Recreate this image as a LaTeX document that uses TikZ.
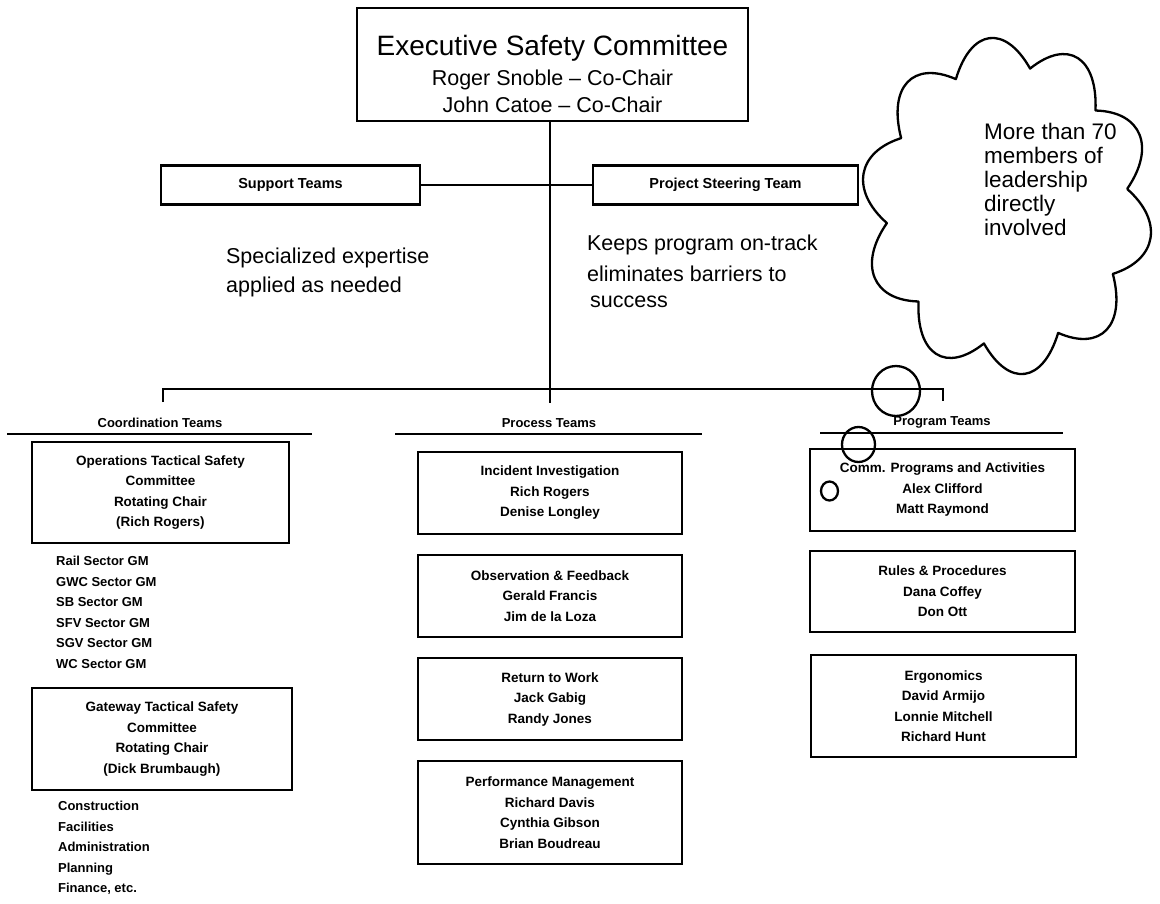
\documentclass[tikz,border=0pt]{standalone}
\usepackage{fontspec}
\setmainfont{Liberation Sans}
\usetikzlibrary{shapes.geometric,calc}
\begin{document}
\begin{tikzpicture}[x=1pt,y=-1pt,line width=2.3pt,
  frame/.style={draw,line width=2.4pt,inner sep=0pt,align=center},
  small/.style={font=\bfseries\fontsize{13.5}{20.5}\selectfont},
  head/.style={font=\bfseries\fontsize{13}{15}\selectfont,inner sep=0pt},
  big/.style={font=\fontsize{21.5}{28}\selectfont,align=left,inner sep=0pt},
  listtxt/.style={font=\bfseries\fontsize{13}{20.5}\selectfont,align=left,inner sep=0pt,anchor=west},
  bubble/.style={draw,line width=2.3pt,ellipse,inner sep=0pt}]
\useasboundingbox (0,0) rectangle (1160,903);

% top box
\node[frame,minimum width=391pt,minimum height=113pt] (esc) at (552.5,64.5) {};
\node[inner sep=0pt,font=\fontsize{28}{30}\selectfont] (esct) at (552.5,48) {Executive Safety Committee};
\node[inner sep=0pt,font=\fontsize{21.5}{24}\selectfont] (escr) at (552.5,80) {Roger Snoble -- Co-Chair};
\node[inner sep=0pt,font=\fontsize{21.5}{24}\selectfont] (escj) at (552.5,105) {John Catoe -- Co-Chair};

% support and steering
\node[frame,minimum width=259pt,minimum height=39pt,font=\bfseries\fontsize{14.5}{16}\selectfont] (sup) at (290.5,185) {Support Teams};
\node[frame,minimum width=265pt,minimum height=39pt,font=\bfseries\fontsize{14.5}{16}\selectfont] (pst) at (725.5,185) {Project Steering Team};
\draw (sup.east) -- (pst.west);

\node[big,anchor=west] (spec) at (225,258) {Specialized expertise};
\node[big,anchor=west] (spec2) at (225,287) {applied as needed};
\node[big,anchor=west] (keep) at (586,245) {Keeps program on-track};
\node[big,anchor=west] (keep2) at (586,274) {eliminates barriers to};
\node[big,anchor=west] (keep3) at (589,302) {success};

% trunk and bar
\coordinate (bj) at (550,389);
\coordinate (bjd) at (550,403);
\coordinate (bl) at (163,389);
\coordinate (bld) at (163,402);
\coordinate (br) at (943,389);
\coordinate (brd) at (943,401);
\draw (esc.south -| bj) -- (bjd);
\draw (bld) -- (bl) -- (br) -- (brd);

% cloud
\coordinate (cc) at (1007,206);
\foreach \i/\a in {0/-7,1/29,2/65,3/101,4/137,5/173,6/209,7/245,8/281,9/317}
  \coordinate (v\i) at ($(cc)+(\a:121 and 140)$);
\foreach \i/\j in {0/1,1/2,2/3,3/4,4/5,5/6,6/7,7/8,8/9,9/0} {
  \coordinate (m\i) at ($(v\i)!0.3333!(v\j)$);
  \coordinate (n\i) at ($(v\i)!0.6667!(v\j)$);
  \coordinate (p\i) at ($(cc)!1.36!(m\i)$);
  \coordinate (q\i) at ($(cc)!1.36!(n\i)$);
}
\draw[line width=2.3pt,line join=round] (v0)
  \foreach \i/\j in {0/1,1/2,2/3,3/4,4/5,5/6,6/7,7/8,8/9,9/0} { .. controls (p\i) and (q\i) .. (v\j) };
\node[inner sep=0pt,anchor=north west,align=left,font=\fontsize{22.5}{24}\selectfont] (ctext) at (983,122)
  {More than 70\\members of\\leadership\\directly\\involved};
\node[bubble,minimum width=48pt,minimum height=50pt] (b1) at (896,391) {};
\node[bubble,minimum width=33pt,minimum height=35pt] (b2) at (858.5,444.5) {};
\node[bubble,minimum width=17pt,minimum height=19pt] (b3) at (829.5,491) {};

% headers
\node[head] (hc) at (160,423) {Coordination Teams};
\node[head] (hp) at (549,423) {Process Teams};
\node[head] (hg) at (942,422) {Program Teams};
\coordinate (ucl) at (7,434); \coordinate (ucr) at (312,434);
\coordinate (upl) at (395,434); \coordinate (upr) at (702,434);
\coordinate (ugl) at (820,433); \coordinate (ugr) at (1063,433);
\draw (ucl) -- (ucr);
\draw (upl) -- (upr);
\draw (ugl) -- (ugr);

% coordination column
\node[frame,small,minimum width=257pt,minimum height=101pt] (ops) at (160.5,492.5)
  {Operations Tactical Safety\\Committee\\Rotating Chair\\(Rich Rogers)};
\node[listtxt,anchor=north west] (sect) at (55,555)
  {Rail Sector GM\\GWC Sector GM\\SB Sector GM\\SFV Sector GM\\SGV Sector GM\\WC Sector GM};
\node[frame,small,minimum width=260pt,minimum height=102pt] (gate) at (162,739)
  {Gateway Tactical Safety\\Committee\\Rotating Chair\\(Dick Brumbaugh)};
\node[listtxt,anchor=north west] (dept) at (57,800)
  {Construction\\Facilities\\Administration\\Planning\\Finance, etc.};

% process column
\node[frame,small,minimum width=264pt,minimum height=82pt] (inv) at (550,493)
  {Incident Investigation\\Rich Rogers\\Denise Longley};
\node[frame,small,minimum width=264pt,minimum height=82pt] (obs) at (550,596)
  {Observation \& Feedback\\Gerald Francis\\Jim de la Loza};
\node[frame,small,minimum width=264pt,minimum height=82pt] (rtw) at (550,699)
  {Return to Work\\Jack Gabig\\Randy Jones};
\node[frame,small,minimum width=264pt,minimum height=103pt] (perf) at (550,812.5)
  {Performance Management\\Richard Davis\\Cynthia Gibson\\Brian Boudreau};

% program column
\node[frame,small,minimum width=265pt,minimum height=82pt] (comm) at (942.5,490)
  {Comm. Programs and Activities\\Alex Clifford\\Matt Raymond};
\node[frame,small,minimum width=265pt,minimum height=81pt] (rules) at (942.5,591.5)
  {Rules \& Procedures\\Dana Coffey\\Don Ott};
\node[frame,small,minimum width=265pt,minimum height=102pt] (ergo) at (943.5,706)
  {Ergonomics\\David Armijo\\Lonnie Mitchell\\Richard Hunt};
\end{tikzpicture}
\end{document}
